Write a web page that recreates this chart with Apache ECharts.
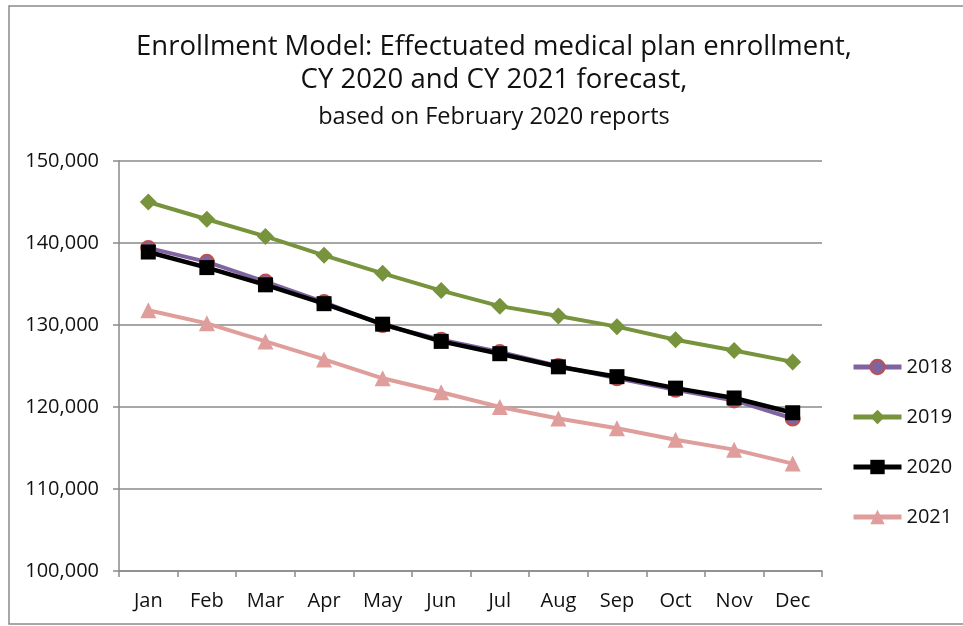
<!DOCTYPE html>
<html>
<head>
<meta charset="utf-8">
<script src="https://cdn.jsdelivr.net/npm/echarts@6/dist/echarts.min.js"></script>
<style>html,body{margin:0;padding:0;background:#fff}#c{width:963px;height:626px}</style>
</head>
<body>
<div id="c"></div>
<script>
var months = ['Jan','Feb','Mar','Apr','May','Jun','Jul','Aug','Sep','Oct','Nov','Dec'];
var y2018 = [139400,137700,135300,132800,130000,128200,126700,125000,123500,122100,120800,118600];
var y2019 = [145000,142900,140800,138500,136300,134200,132300,131100,129800,128200,126900,125500];
var y2020 = [138900,137000,134900,132600,130100,128000,126500,124900,123700,122300,121100,119300];
var y2021 = [131800,130200,128000,125800,123500,121800,120000,118600,117400,116000,114800,113100];
var yTicks = {min:100000, max:150000, step:10000};

var FONT = 'Open Sans';
var chart = echarts.init(document.getElementById('c'), null, {renderer:'canvas'});
function mk(name, data, color, symbol, size, lw, itemStyle, z){
  return {name:name, type:'line', data:data, symbol:symbol, symbolSize:size,
    lineStyle:{color:color, width:lw}, itemStyle:itemStyle, z:z, animation:false};
}
chart.setOption({
  animation:false,
  textStyle:{fontFamily:FONT},
  title:{
    text:'Enrollment Model: Effectuated medical plan enrollment,\nCY 2020 and CY 2021 forecast,',
    subtext:'based on February 2020 reports',
    left:489, top:26, textAlign:'center', itemGap:7,
    textStyle:{fontFamily:FONT, fontSize:27.5, fontWeight:'normal', color:'#111', lineHeight:33},
    subtextStyle:{fontFamily:FONT, fontSize:23.5, color:'#111', lineHeight:26}
  },
  graphic:[{type:'rect', shape:{x:9, y:6, width:960, height:618}, style:{fill:'none', stroke:'#8a8a8a', lineWidth:1.5}, silent:true}],
  grid:{left:119, right:141, top:161, bottom:55, containLabel:false},
  legend:{
    orient:'vertical', left:846, top:352, itemWidth:48, itemHeight:18, itemGap:30,
    lineStyle:{width:5},
    textStyle:{fontFamily:FONT, fontSize:20, color:'#111', lineHeight:20},
    data:['2018','2019','2020','2021']
  },
  xAxis:{type:'category', data:months, boundaryGap:true,
    axisLine:{lineStyle:{color:'#8a8a8a', width:1.5}},
    axisTick:{show:true, length:6, alignWithLabel:false, lineStyle:{color:'#8a8a8a', width:1.5}},
    axisLabel:{fontFamily:FONT, fontSize:20, color:'#111', margin:20},
    splitLine:{show:false}
  },
  yAxis:{type:'value', min:yTicks.min, max:yTicks.max, interval:yTicks.step,
    axisLine:{show:true, lineStyle:{color:'#8a8a8a', width:1.5}},
    axisTick:{show:true, length:6, lineStyle:{color:'#8a8a8a', width:1.5}},
    axisLabel:{fontFamily:FONT, fontSize:20, color:'#111', margin:20,
      formatter:function(v){return v.toLocaleString('en-US');}},
    splitLine:{show:true, lineStyle:{color:'#8a8a8a', width:1.5}}
  },
  series:[
    mk('2018', y2018, '#8064a2', 'circle', 14, 4, {color:'#8064a2', borderColor:'#c0504d', borderWidth:2}, 2),
    mk('2019', y2019, '#77933c', 'diamond', 17, 4, {color:'#77933c'}, 3),
    mk('2020', y2020, '#000000', 'rect', 15, 4.5, {color:'#000000'}, 4),
    mk('2021', y2021, '#df9d9b', 'triangle', 16, 4, {color:'#df9d9b'}, 3)
  ]
});
</script>
</body>
</html>
